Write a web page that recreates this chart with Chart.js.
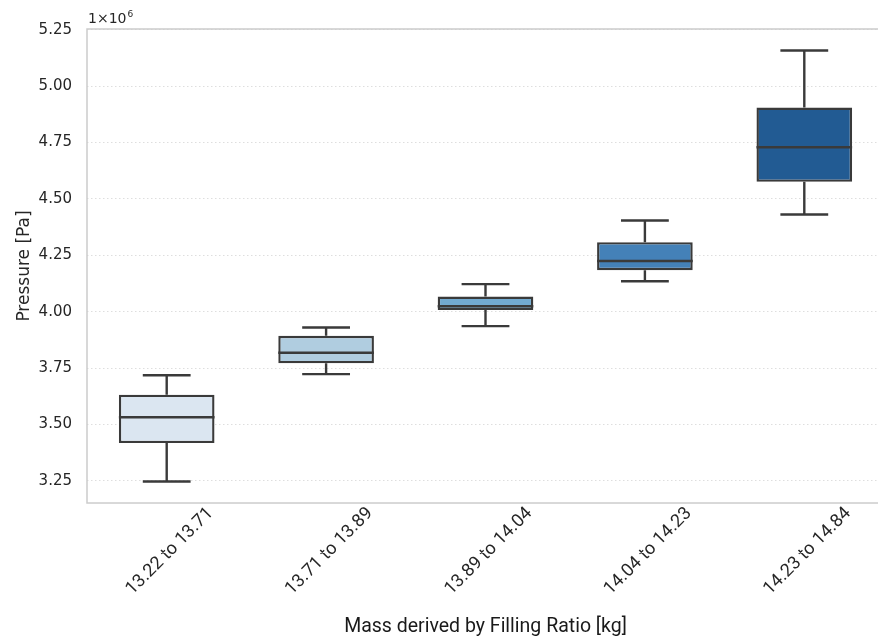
<!DOCTYPE html>
<html>
<head>
<meta charset="utf-8">
<script src="https://cdn.jsdelivr.net/npm/chart.js@4/dist/chart.umd.min.js"></script>
<style>
  html, body { margin: 0; padding: 0; background: #ffffff; overflow: hidden; }
  #wrap { width: 878px; height: 642px; position: relative; overflow: hidden; }
</style>
</head>
<body>
<div id="wrap"><canvas id="c" width="885" height="642"></canvas></div>
<script>
// Mass bins (kg)
const categories = ['13.22 to 13.71', '13.71 to 13.89', '13.89 to 14.04', '14.04 to 14.23', '14.23 to 14.84'];

// Box statistics of pressure per bin, in Pa
const whiskerLow  = [3247000, 3723000, 3936000, 4135000, 4431000];
const quartile1   = [3417000, 3771000, 4007000, 4184000, 4576000];
const medians     = [3532000, 3818000, 4024000, 4225000, 4729000];
const quartile3   = [3632000, 3893000, 4067000, 4308000, 4905000];
const whiskerHigh = [3718000, 3930000, 4122000, 4404000, 5158000];

// Y tick positions (Pa); labels are shown in units of 1e6
const yTickValues = [3250000, 3500000, 3750000, 4000000, 4250000, 4500000, 4750000, 5000000, 5250000];

const boxColors = ['#dbe6f1', '#b0cde0', '#72aad0', '#4481b8', '#225b93'];
const edgeColor = '#3a3a3a';

const lo = Math.min(...whiskerLow);
const hi = Math.max(...whiskerHigh);
const margin = (hi - lo) * 0.05;

// whiskers, caps and median lines on top of the floating bars
const boxPlotParts = {
  id: 'boxPlotParts',
  afterDatasetsDraw(chart) {
    const { ctx } = chart;
    const y = chart.scales.y;
    const meta = chart.getDatasetMeta(0);
    ctx.save();
    ctx.strokeStyle = edgeColor;
    ctx.lineWidth = 2.4;
    ctx.lineCap = 'butt';
    meta.data.forEach((bar, i) => {
      const x = bar.x;
      const half = bar.width / 2;
      const cap = bar.width / 4;
      const pLow = y.getPixelForValue(whiskerLow[i]);
      const pQ1 = y.getPixelForValue(quartile1[i]);
      const pMed = y.getPixelForValue(medians[i]);
      const pQ3 = y.getPixelForValue(quartile3[i]);
      const pHigh = y.getPixelForValue(whiskerHigh[i]);
      ctx.beginPath();
      ctx.moveTo(x, pQ3); ctx.lineTo(x, pHigh);
      ctx.moveTo(x - cap, pHigh); ctx.lineTo(x + cap, pHigh);
      ctx.moveTo(x, pQ1); ctx.lineTo(x, pLow);
      ctx.moveTo(x - cap, pLow); ctx.lineTo(x + cap, pLow);
      ctx.moveTo(x - half, pMed); ctx.lineTo(x + half, pMed);
      ctx.stroke();
    });
    ctx.restore();
  },
  afterDraw(chart) {
    const { ctx, chartArea } = chart;
    ctx.save();
    // axes frame
    ctx.strokeStyle = '#cccccc';
    ctx.lineWidth = 1.5;
    ctx.strokeRect(chartArea.left, chartArea.top, chartArea.right - chartArea.left, chartArea.bottom - chartArea.top);
    // scale multiplier above the y axis
    ctx.fillStyle = '#262626';
    ctx.textBaseline = 'alphabetic';
    ctx.textAlign = 'left';
    ctx.font = '14px "DejaVu Sans"';
    const base = chartArea.top - 6;
    ctx.fillText('1×10', chartArea.left + 1, base);
    const w = ctx.measureText('1×10').width;
    ctx.font = '9px "DejaVu Sans"';
    ctx.fillText('6', chartArea.left + 1 + w + 1, base - 6);
    ctx.restore();
  }
};

new Chart(document.getElementById('c'), {
  type: 'bar',
  data: {
    labels: categories,
    datasets: [{
      data: categories.map((_, i) => [quartile1[i], quartile3[i]]),
      backgroundColor: boxColors,
      borderColor: edgeColor,
      borderWidth: 2.4,
      borderSkipped: false,
      categoryPercentage: 1,
      barPercentage: 0.6
    }]
  },
  options: {
    responsive: false,
    animation: false,
    layout: { padding: { top: 29, right: 1, left: 0, bottom: 0 } },
    plugins: { legend: { display: false }, tooltip: { enabled: false } },
    scales: {
      x: {
        type: 'category',
        offset: true,
        grid: { display: false, drawTicks: false },
        border: { display: false },
        ticks: {
          maxRotation: 45,
          minRotation: 45,
          padding: 0,
          labelOffset: 44,
          color: '#262626',
          font: { family: 'Roboto', size: 18 }
        },
        title: {
          display: true,
          text: 'Mass derived by Filling Ratio [kg]',
          color: '#1a1a1a',
          font: { family: 'Roboto', size: 19.5 },
          padding: { top: 4, bottom: 3 }
        },
        afterFit(scale) { scale.height = 139; }
      },
      y: {
        min: lo - margin,
        max: hi + margin,
        afterBuildTicks(scale) { scale.ticks = yTickValues.map(v => ({ value: v })); },
        grid: { color: '#dedede', lineWidth: 1, drawTicks: false },
        border: { display: false, dash: [1.5, 2.5] },
        ticks: {
          padding: 15,
          color: '#262626',
          font: { family: 'DejaVu Sans', size: 15 },
          callback: v => (v / 1e6).toFixed(2)
        },
        title: {
          display: true,
          text: 'Pressure [Pa]',
          color: '#262626',
          font: { family: 'DejaVu Sans', size: 17 },
          padding: { top: 14, bottom: 4 }
        },
        afterFit(scale) { scale.width = 87; }
      }
    }
  },
  plugins: [boxPlotParts]
});
</script>
</body>
</html>
